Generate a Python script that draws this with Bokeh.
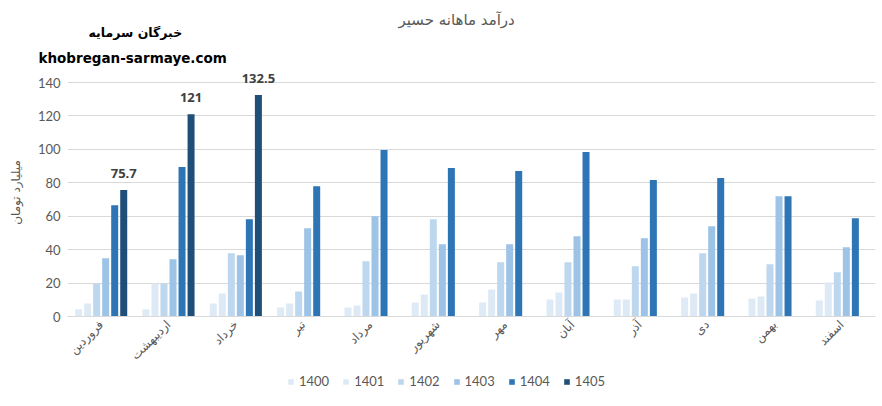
import math
from bokeh.plotting import figure
from bokeh.layouts import column
from bokeh.models import ColumnDataSource, Legend, LegendItem, Title
from bokeh.transform import dodge
from bokeh.embed import file_html
from bokeh.resources import INLINE
from bokeh.core.properties import value

NAN = float("nan")

months = ["فروردین", "اردیبهشت", "خرداد", "تیر", "مرداد", "شهریور",
          "مهر", "آبان", "آذر", "دی", "بهمن", "اسفند"]
years = ["1400", "1401", "1402", "1403", "1404", "1405"]

y1400 = [4.4, 4.4, 7.8, 5.4, 5.4, 8.4, 8.4, 10.2, 10.2, 11.4, 10.8, 9.6]
y1401 = [7.8, 19.8, 13.8, 7.8, 6.6, 13.2, 16.2, 14.4, 10.2, 13.8, 12.0, 20.4]
y1402 = [19.8, 19.8, 37.8, 15.0, 33.0, 58.2, 32.4, 32.4, 30.0, 37.8, 31.2, 26.4]
y1403 = [34.8, 34.2, 36.6, 52.8, 60.0, 43.2, 43.2, 48.0, 46.8, 54.0, 72.0, 41.4]
y1404 = [66.6, 89.4, 58.2, 78.0, 99.6, 88.8, 87.0, 98.4, 81.6, 82.8, 72.0, 58.8]
y1405 = [75.7, 121.0, 132.5, NAN, NAN, NAN, NAN, NAN, NAN, NAN, NAN, NAN]
y_ticks = [0, 20, 40, 60, 80, 100, 120, 140]

series = [y1400, y1401, y1402, y1403, y1404, y1405]
colors = ["#DEEBF7", "#DDEAF6", "#BDD7EE", "#9DC3E6", "#2E75B6", "#1F4E79"]

title_text = "درآمد ماهانه حسیر"
y_label = "میلیارد تومان"
brand_fa = "خبرگان سرمایه"
brand_en = "khobregan-sarmaye.com"

FA_FONT = "DejaVu Sans"
NUM_FONT = "Lato"
GREY = "#595959"

W = 878
H_MAIN, H_LEG = 372, 28
LEFT, RIGHT, TOP, BOTTOM = 67, 3, 68, 56
px_per_unit = 234 / 140.0
y_end = (H_MAIN - TOP - BOTTOM) / px_per_unit

p = figure(width=W, height=H_MAIN, x_range=months, y_range=(0, y_end),
           output_backend="svg", toolbar_location=None,
           min_border_left=LEFT, min_border_right=RIGHT,
           min_border_top=TOP, min_border_bottom=BOTTOM)
p.outline_line_color = None
p.background_fill_color = "white"

data = {"month": months}
for yr, vals in zip(years, series):
    data["y" + yr] = vals
src = ColumnDataSource(data)

pitch = 0.134
bw = 0.104
for i, yr in enumerate(years):
    off = (i - 2.5) * pitch
    p.vbar(x=dodge("month", off, range=p.x_range), top="y" + yr, width=bw,
           source=src, fill_color=colors[i], line_color=None)

# data labels on 1405 bars
lab_months = [m for m, v in zip(months, y1405) if not math.isnan(v)]
lab_vals = [v for v in y1405 if not math.isnan(v)]
lab_src = ColumnDataSource(dict(month=lab_months, top=lab_vals,
                                txt=[f"{v:g}" for v in lab_vals]))
p.text(x=dodge("month", 2.5 * pitch, range=p.x_range), y="top", text="txt",
       source=lab_src, text_align="center", text_baseline="bottom",
       y_offset=-12, text_font=value("Open Sans"), text_font_size="13px",
       text_font_style="bold", text_color="#404040")

# axes
p.yaxis.ticker = y_ticks
p.yaxis.axis_line_color = None
p.yaxis.major_tick_line_color = None
p.yaxis.minor_tick_line_color = None
p.yaxis.major_tick_out = 0
p.yaxis.major_label_text_color = GREY
p.yaxis.major_label_text_font = NUM_FONT
p.yaxis.major_label_text_font_size = "13px"
p.yaxis.major_label_standoff = 7
p.yaxis.axis_label = y_label
p.yaxis.axis_label_text_font = FA_FONT
p.yaxis.axis_label_text_font_size = "12px"
p.yaxis.axis_label_text_font_style = "normal"
p.yaxis.axis_label_text_color = GREY
p.yaxis.axis_label_standoff = 12

p.xaxis.axis_line_color = "#D9D9D9"
p.xaxis.axis_line_width = 1
p.xaxis.major_tick_line_color = None
p.xaxis.minor_tick_line_color = None
p.xaxis.major_tick_out = 0
p.xaxis.major_label_orientation = math.pi / 4
p.xaxis.major_label_text_color = GREY
p.xaxis.major_label_text_font = FA_FONT
p.xaxis.major_label_text_font_size = "12px"
p.xaxis.major_label_standoff = 6

p.xgrid.grid_line_color = None
p.ygrid.grid_line_color = "#D9D9D9"
p.ygrid.grid_line_width = 1

# texts above the frame (first added sits closest to the frame)
p.add_layout(Title(text=brand_en, align="left", offset=38 - LEFT, standoff=6,
                   vertical_align="bottom",
                   text_font=FA_FONT, text_font_size="13.5px",
                   text_font_style="bold", text_color="black"), "above")
p.add_layout(Title(text=brand_fa, align="left", offset=88 - LEFT, standoff=5,
                   vertical_align="top",
                   text_font=FA_FONT, text_font_size="12.5px",
                   text_font_style="bold", text_color="black"), "above")
p.add_layout(Title(text=title_text, align="left", offset=398 - LEFT,
                   standoff=-13, vertical_align="bottom",
                   text_font=FA_FONT, text_font_size="15px",
                   text_font_style="normal", text_color=GREY), "above")

# legend strip under the chart (its frame is aligned with the main frame)
q = figure(width=W, height=H_LEG, x_range=(0, 1), y_range=(0, 1),
           output_backend="svg", toolbar_location=None,
           x_axis_type=None, y_axis_type=None,
           min_border_left=0, min_border_right=0,
           min_border_top=0, min_border_bottom=0)
q.outline_line_color = None
q.xgrid.visible = False
q.ygrid.visible = False
leg_renderers = []
for i, yr in enumerate(years):
    r = q.vbar(x=[NAN], top=[NAN], width=0.1, fill_color=colors[i],
               line_color=None)
    leg_renderers.append(r)
items = [LegendItem(label=yr, renderers=[r]) for yr, r in zip(years, leg_renderers)]
leg = Legend(items=items, orientation="horizontal", location=(287 - LEFT, 11),
             glyph_width=7, glyph_height=7, label_standoff=5, spacing=13,
             padding=0, margin=0, border_line_color=None,
             background_fill_alpha=0, label_text_font=NUM_FONT,
             label_text_font_size="13px", label_text_color=GREY)
q.add_layout(leg, "center")

layout = column(p, q, spacing=0)
open("out.html", "w").write(file_html(layout, INLINE))
